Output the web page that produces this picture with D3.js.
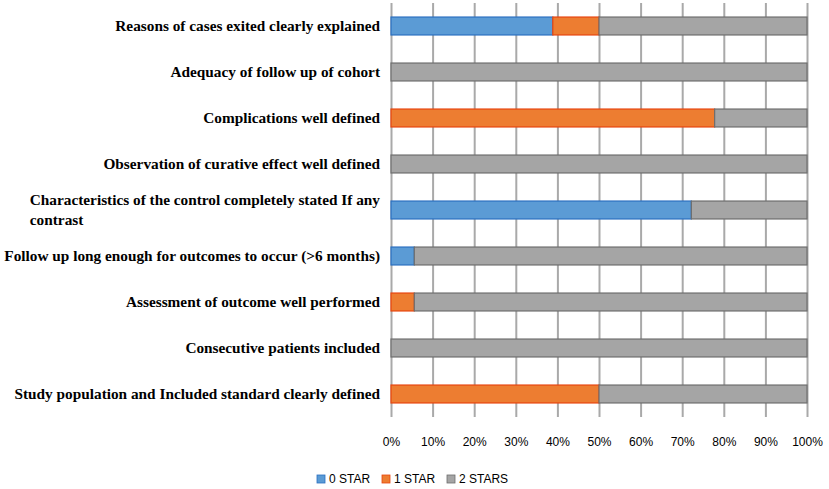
<!DOCTYPE html>
<head>
    <meta charset="utf-8">
    <title>Quality assessment stars</title>
    <script src="https://d3js.org/d3.v7.min.js"></script>
    <style>
    body { margin: 0; background: #ffffff; }
    .cat { font-family: "Liberation Serif", "Times New Roman", serif; font-weight: bold; font-size: 15.3px; fill: #000; }
    .tick text, .leg { font-family: "Liberation Sans", Arial, sans-serif; font-size: 12px; fill: #000; }
    </style>
</head>

<body>
    <script>
    var categories = [
        "Reasons of cases exited clearly explained",
        "Adequacy of follow up of cohort",
        "Complications well defined",
        "Observation of curative effect well defined",
        "Characteristics of the control completely stated If any|contrast",
        "Follow up long enough for outcomes to occur (>6 months)",
        "Assessment of outcome well performed",
        "Consecutive patients included",
        "Study population and Included standard clearly defined"
    ];
    var seriesNames = ["0 STAR", "1 STAR", "2 STARS"];
    var zeroStar = [38.9, 0, 0, 0, 72.2, 5.6, 0, 0, 0];
    var oneStar  = [11.1, 0, 77.8, 0, 0, 0, 5.6, 0, 50];
    var twoStars = [50, 100, 22.2, 100, 27.8, 94.4, 94.4, 100, 50];
    var xTicks = [0, 10, 20, 30, 40, 50, 60, 70, 80, 90, 100];

    var colors = ["#5b9bd5", "#ed7d31", "#a5a5a5"],
        strokes = ["#2a6fc0", "#e8450e", "#6e6e6e"];

    var width = 829, height = 489,
        margin = {top: 3, right: 22, bottom: 72, left: 391};

    var svg = d3.select("body").append("svg")
        .attr("width", width)
        .attr("height", height);

    var x = d3.scaleLinear().domain([0, 100]).range([margin.left, width - margin.right]);
    var y = d3.scaleBand().domain(categories).range([margin.top, height - margin.bottom]).paddingInner(0.61).paddingOuter(0.305);

    // vertical gridlines via an axis with full-height ticks
    var gridAxis = svg.append("g")
        .attr("class", "grid")
        .attr("transform", "translate(0," + (height - margin.bottom) + ")")
        .call(d3.axisBottom(x).tickValues(xTicks).tickSize(-(height - margin.bottom - margin.top)).tickFormat(""));
    gridAxis.select(".domain").remove();
    gridAxis.selectAll(".tick line").attr("stroke", "#a9a9a9").attr("stroke-width", 2);

    var rows = categories.map(function(c, i) {
        return {cat: c, vals: [zeroStar[i], oneStar[i], twoStars[i]]};
    });

    var segs = [];
    rows.forEach(function(r) {
        var acc = 0;
        r.vals.forEach(function(v, k) {
            if (v > 0) segs.push({cat: r.cat, k: k, x0: acc, x1: acc + v});
            acc += v;
        });
    });

    svg.append("g").selectAll("rect")
        .data(segs)
        .join("rect")
        .attr("x", function(d) { return x(d.x0); })
        .attr("width", function(d) { return x(d.x1) - x(d.x0); })
        .attr("y", function(d) { return y(d.cat); })
        .attr("height", y.bandwidth())
        .attr("fill", function(d) { return colors[d.k]; })
        .attr("stroke", function(d) { return strokes[d.k]; })
        .attr("stroke-width", 1.2);

    // x axis labels
    var xAxis = svg.append("g")
        .attr("transform", "translate(0," + (height - margin.bottom) + ")")
        .call(d3.axisBottom(x).tickValues(xTicks).tickSize(0).tickPadding(20)
            .tickFormat(function(d) { return d + "%"; }));
    xAxis.select(".domain").remove();
    xAxis.selectAll(".tick line").remove();
    xAxis.selectAll(".tick text").attr("font-family", null).attr("font-size", null);

    // category labels
    var labels = svg.append("g").selectAll("g")
        .data(categories)
        .join("g")
        .attr("transform", function(d) { return "translate(" + (margin.left - 11) + "," + (y(d) + y.bandwidth() / 2) + ")"; });

    labels.each(function(d) {
        var parts = d.split("|"), g = d3.select(this);
        if (parts.length == 1) {
            g.append("text").attr("class", "cat").attr("text-anchor", "end").attr("dy", "0.32em").text(d);
        } else {
            var t1 = g.append("text").attr("class", "cat").attr("text-anchor", "end").attr("y", -10).attr("dy", "0.32em").text(parts[0]);
            var w = t1.node().getComputedTextLength();
            g.append("text").attr("class", "cat").attr("x", -w).attr("y", 10).attr("dy", "0.32em").text(parts[1]);
        }
    });

    // legend
    var legX = [317, 382, 447];
    var leg = svg.append("g").selectAll("g")
        .data(seriesNames)
        .join("g")
        .attr("transform", function(d, i) { return "translate(" + legX[i] + ",479)"; });
    leg.append("rect").attr("x", 0).attr("y", -4).attr("width", 8).attr("height", 8)
        .attr("fill", function(d, i) { return colors[i]; })
        .attr("stroke", function(d, i) { return strokes[i]; }).attr("stroke-width", 0.8);
    leg.append("text").attr("class", "leg").attr("x", 12).attr("dy", "0.35em").text(function(d) { return d; });
    </script>
</body>
